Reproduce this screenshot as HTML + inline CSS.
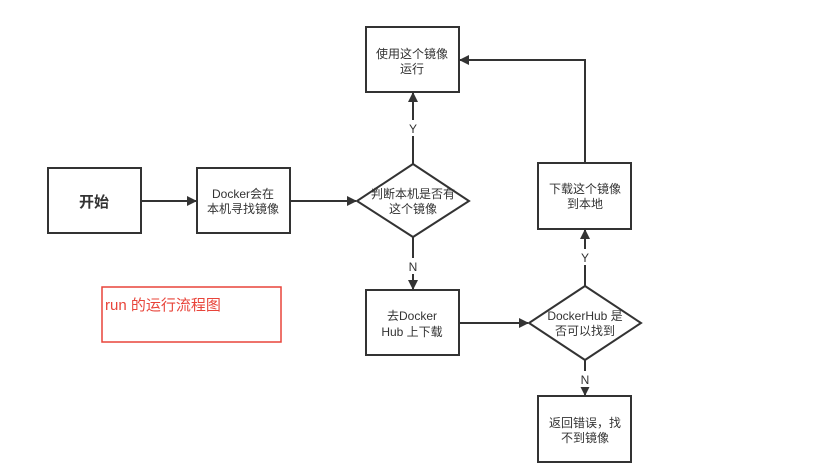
<html><body style="margin:0;background:#fff">
<svg width="836" height="468" xmlns="http://www.w3.org/2000/svg" style="display:block;font-family:'Liberation Sans','Noto Sans CJK SC',sans-serif">
<defs><marker id="a" markerWidth="10" markerHeight="10" refX="9" refY="5" orient="auto" markerUnits="userSpaceOnUse"><path d="M0,0 L10,5 L0,10 z" fill="#333"/></marker></defs>
<g stroke="#333" stroke-width="2" fill="#fff">
<rect x="48" y="168" width="93" height="65"/>
<rect x="197" y="168" width="93" height="65"/>
<polygon points="413,164 469,201 413,237 357,201"/>
<rect x="366" y="27" width="93" height="65"/>
<rect x="366" y="290" width="93" height="65"/>
<polygon points="585,286 641,323 585,360 529,323"/>
<rect x="538" y="163" width="93" height="66"/>
<rect x="538" y="396" width="93" height="66"/>
</g>
<g stroke="#333" stroke-width="2" fill="none" marker-end="url(#a)">
<line x1="141" y1="201" x2="196" y2="201"/>
<line x1="290" y1="201" x2="356" y2="201"/>
<line x1="413" y1="164" x2="413" y2="93"/>
<line x1="413" y1="237" x2="413" y2="289"/>
<line x1="459" y1="323" x2="528" y2="323"/>
<line x1="585" y1="286" x2="585" y2="230"/>
<line x1="585" y1="360" x2="585" y2="395"/>
<polyline points="585,163 585,60 460,60"/>
</g>
<g fill="#fff"><rect x="406" y="120" width="14" height="16"/><rect x="578" y="249" width="14" height="16"/><rect x="405" y="258" width="15" height="16"/><rect x="578" y="371" width="15" height="16"/></g>
<g fill="#333" font-size="12" text-anchor="middle">
<text x="413" y="133">Y</text><text x="585" y="262">Y</text>
<text x="413" y="271">N</text><text x="585" y="384">N</text>
<text x="94" y="207" font-size="15" font-weight="bold">开始</text>
<text x="243" y="198">Docker会在</text><text x="243" y="213">本机寻找镜像</text>
<text x="413" y="198">判断本机是否有</text><text x="413" y="213">这个镜像</text>
<text x="412" y="58">使用这个镜像</text><text x="412" y="73">运行</text>
<text x="412" y="320">去Docker</text><text x="412" y="336">Hub 上下载</text>
<text x="585" y="320">DockerHub 是</text><text x="585" y="335">否可以找到</text>
<text x="585" y="193">下载这个镜像</text><text x="585" y="208">到本地</text>
<text x="585" y="427">返回错误，找</text><text x="585" y="442">不到镜像</text>
</g>
<rect x="102" y="287" width="179" height="55" fill="none" stroke="#e8443a" stroke-width="1.5"/>
<text x="105" y="310" font-size="15" fill="#e8443a">run 的运行流程图</text>
</svg>
</body></html>
